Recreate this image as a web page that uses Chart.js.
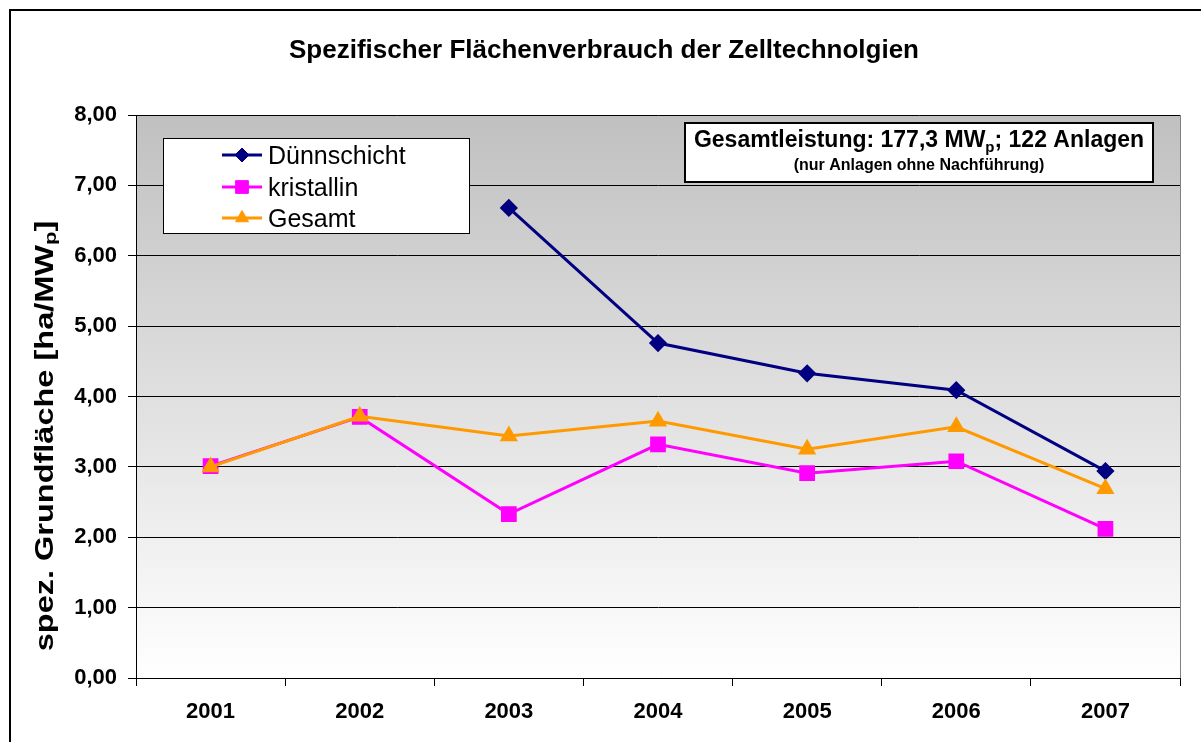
<!DOCTYPE html>
<html>
<head>
<meta charset="utf-8">
<script src="https://cdn.jsdelivr.net/npm/chart.js@4"></script>
<style>
  html, body { margin: 0; padding: 0; background: #fff; }
  #wrap { width: 1201px; height: 742px; }
</style>
</head>
<body>
<div id="wrap"><canvas id="chart" width="1201" height="742"></canvas></div>
<script>
var years = ["2001", "2002", "2003", "2004", "2005", "2006", "2007"];
var duennschicht = [null, null, 6.68, 4.76, 4.33, 4.09, 2.94];
var kristallin = [3.01, 3.71, 2.33, 3.32, 2.91, 3.08, 2.12];
var gesamt = [3.0, 3.72, 3.44, 3.65, 3.25, 3.57, 2.69];
var yTicks = [0, 1, 2, 3, 4, 5, 6, 7, 8];

var FONT = "'Liberation Sans', Arial, sans-serif";

// draws text made of parts, some of them subscript
function richText(ctx, parts, x, y, size, bold) {
  var w = 0;
  parts.forEach(function (p) {
    ctx.font = (bold ? "bold " : "") + (p.sub ? Math.round(size * 0.66) : size) + "px " + FONT;
    p.w = ctx.measureText(p.t).width;
    w += p.w;
  });
  var cx = x - w / 2;
  parts.forEach(function (p) {
    ctx.font = (bold ? "bold " : "") + (p.sub ? Math.round(size * 0.66) : size) + "px " + FONT;
    ctx.fillText(p.t, cx, p.sub ? y + size * 0.22 : y);
    cx += p.w;
  });
}

var backgroundPlugin = {
  id: "plotBackground",
  beforeDraw: function (chart) {
    var ctx = chart.ctx, a = chart.chartArea;
    ctx.save();
    var g = ctx.createLinearGradient(0, a.top, 0, a.bottom);
    g.addColorStop(0, "#c0c0c0");
    g.addColorStop(1, "#ffffff");
    ctx.fillStyle = g;
    ctx.fillRect(a.left, a.top, a.right - a.left, a.bottom - a.top);
    ctx.restore();
  },
  afterDatasetsDraw: function (chart) {
    var ctx = chart.ctx, a = chart.chartArea;
    ctx.save();
    // right edge of plot area
    ctx.strokeStyle = "#808080";
    ctx.lineWidth = 1;
    ctx.beginPath();
    ctx.moveTo(Math.round(a.right) + 0.5, a.top);
    ctx.lineTo(Math.round(a.right) + 0.5, a.bottom);
    ctx.stroke();
    ctx.restore();
  }
};

var decorPlugin = {
  id: "decor",
  afterDraw: function (chart) {
    var ctx = chart.ctx;
    ctx.save();

    // outer frame
    ctx.strokeStyle = "#000";
    ctx.lineWidth = 2;
    ctx.beginPath();
    ctx.moveTo(10, 742);
    ctx.lineTo(10, 10);
    ctx.lineTo(1201, 10);
    ctx.stroke();

    // title
    ctx.fillStyle = "#000";
    ctx.textAlign = "left";
    ctx.textBaseline = "alphabetic";
    richText(ctx, [{ t: "Spezifischer Flächenverbrauch der Zelltechnolgien" }], 604, 58, 26, true);

    // y axis title (rotated text is stretched in the original)
    ctx.save();
    ctx.translate(46, 436);
    ctx.rotate(-Math.PI / 2);
    ctx.scale(1.3, 1);
    ctx.textBaseline = "middle";
    richText(ctx, [{ t: "spez. Grundfläche [ha/MW" }, { t: "p", sub: true }, { t: "]" }], 0, 0, 25, true);
    ctx.restore();

    // info box
    ctx.fillStyle = "#fff";
    ctx.fillRect(685, 123, 468, 59);
    ctx.strokeStyle = "#000";
    ctx.lineWidth = 2;
    ctx.strokeRect(685, 123, 468, 59);
    ctx.fillStyle = "#000";
    ctx.textBaseline = "alphabetic";
    richText(ctx, [{ t: "Gesamtleistung: 177,3 MW" }, { t: "p", sub: true }, { t: "; 122 Anlagen" }], 919, 147, 23, true);
    richText(ctx, [{ t: "(nur Anlagen ohne Nachführung)" }], 919, 170, 16, true);

    // legend
    ctx.fillStyle = "#fff";
    ctx.fillRect(163.5, 138.5, 306, 95);
    ctx.strokeStyle = "#000";
    ctx.lineWidth = 1;
    ctx.strokeRect(163.5, 138.5, 306, 95);
    var rowsY = [155, 187, 218];
    chart.data.datasets.forEach(function (ds, i) {
      var y = rowsY[i];
      ctx.strokeStyle = ds.borderColor;
      ctx.lineWidth = 3;
      ctx.beginPath();
      ctx.moveTo(222, y);
      ctx.lineTo(262, y);
      ctx.stroke();
      ctx.fillStyle = ds.pointBackgroundColor;
      ctx.strokeStyle = ds.pointBorderColor;
      ctx.lineWidth = 1;
      Chart.helpers.drawPoint(ctx, { pointStyle: ds.pointStyle, radius: ds.pointRadius, rotation: 0, borderWidth: 1 }, 242, y);
      ctx.fillStyle = "#000";
      ctx.font = "25px " + FONT;
      ctx.textAlign = "left";
      ctx.textBaseline = "alphabetic";
      ctx.fillText(ds.label, 268, y + 9);
    });

    ctx.restore();
  }
};

var ctx = document.getElementById("chart").getContext("2d");

new Chart(ctx, {
  type: "line",
  data: {
    labels: years,
    datasets: [
      {
        label: "Dünnschicht",
        data: duennschicht,
        borderColor: "#000080",
        backgroundColor: "#000080",
        pointBackgroundColor: "#000080",
        pointBorderColor: "#000080",
        pointStyle: "rectRot",
        pointRadius: 7,
        borderWidth: 3,
        order: 2,
      },
      {
        label: "kristallin",
        data: kristallin,
        borderColor: "#ff00ff",
        backgroundColor: "#ff00ff",
        pointBackgroundColor: "#ff00ff",
        pointBorderColor: "#ff00ff",
        pointStyle: "rect",
        pointRadius: 9,
        borderWidth: 3,
        order: 1,
      },
      {
        label: "Gesamt",
        data: gesamt,
        borderColor: "#ff9900",
        backgroundColor: "#ff9900",
        pointBackgroundColor: "#ff9900",
        pointBorderColor: "#ff9900",
        pointStyle: "triangle",
        pointRadius: 7.5,
        borderWidth: 3,
        order: 0,
      },
    ],
  },
  options: {
    responsive: false,
    devicePixelRatio: 1,
    animation: false,
    spanGaps: false,
    elements: {
      line: { tension: 0 },
      point: { borderWidth: 1, hoverRadius: 7 },
    },
    layout: {
      padding: { top: 115, right: 21, bottom: 0, left: 0 },
    },
    plugins: {
      legend: { display: false },
      title: { display: false },
      tooltip: { enabled: false },
    },
    scales: {
      x: {
        offset: true,
        grid: {
          offset: true,
          drawOnChartArea: false,
          drawTicks: true,
          tickLength: 8,
          color: "#000",
        },
        border: { display: true, color: "#000", width: 1 },
        ticks: {
          color: "#000",
          padding: 13,
          maxRotation: 0,
          font: { family: FONT, size: 22, weight: "bold" },
        },
        afterFit: function (scale) {
          scale.height = 742 - 678;
        },
      },
      y: {
        min: 0,
        max: 8,
        afterBuildTicks: function (scale) {
          scale.ticks = yTicks.map(function (v) { return { value: v }; });
        },
        grid: {
          color: "#000",
          lineWidth: 1,
          drawTicks: true,
          tickLength: 8,
        },
        border: { display: true, color: "#000", width: 1 },
        ticks: {
          color: "#000",
          padding: 11,
          font: { family: FONT, size: 22, weight: "bold" },
          callback: function (v) {
            return v.toFixed(2).replace(".", ",");
          },
        },
        afterFit: function (scale) {
          scale.width = 136;
        },
      },
    },
  },
  plugins: [backgroundPlugin, decorPlugin],
});
</script>
</body>
</html>
